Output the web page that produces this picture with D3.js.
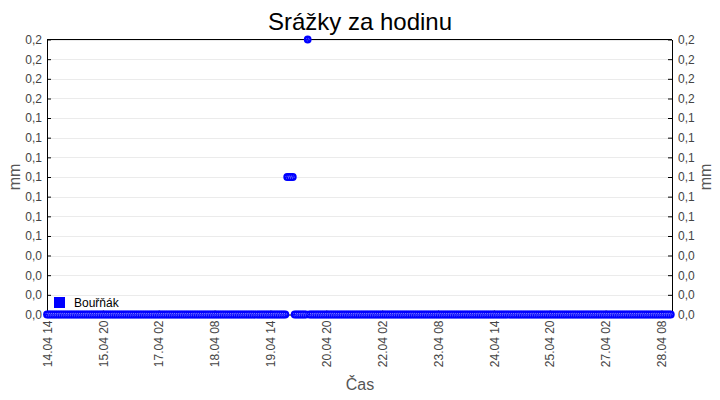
<!DOCTYPE html>
<html><head><meta charset="utf-8">
<script src="https://cdn.jsdelivr.net/npm/d3@7/dist/d3.min.js"></script>
<style>body{margin:0;background:#fff}svg{display:block;font-family:"Liberation Sans",Arial,sans-serif}</style>
</head><body>
<svg id="c" width="720" height="400"></svg>
<script>
const chartTitle = "Srážky za hodinu";
const seriesName = "Bouřňák";
const xTitle = "Čas";
const yTitle = "mm";
const startTime = "2024-04-14T14:00:00Z";
// hourly rainfall (mm), one row per 24 hours
const rainValues = [
 0,0,0,0,0,0,0,0,0,0,0,0,0,0,0,0,0,0,0,0,0,0,0,0,
 0,0,0,0,0,0,0,0,0,0,0,0,0,0,0,0,0,0,0,0,0,0,0,0,
 0,0,0,0,0,0,0,0,0,0,0,0,0,0,0,0,0,0,0,0,0,0,0,0,
 0,0,0,0,0,0,0,0,0,0,0,0,0,0,0,0,0,0,0,0,0,0,0,0,
 0,0,0,0,0,0,0,0,0,0,0,0,0,0,0,0,0,0,0,0,0,0,0,0,
 0,0,0,0,0,0,0,0,0,0.1,0.1,0.1,0.1,0,0,0,0,0,0,0,0.2,0,0,0,
 0,0,0,0,0,0,0,0,0,0,0,0,0,0,0,0,0,0,0,0,0,0,0,0,
 0,0,0,0,0,0,0,0,0,0,0,0,0,0,0,0,0,0,0,0,0,0,0,0,
 0,0,0,0,0,0,0,0,0,0,0,0,0,0,0,0,0,0,0,0,0,0,0,0,
 0,0,0,0,0,0,0,0,0,0,0,0,0,0,0,0,0,0,0,0,0,0,0,0,
 0,0,0,0,0,0,0,0,0,0,0,0,0,0,0,0,0,0,0,0,0,0,0,0,
 0,0,0,0,0,0,0,0,0,0,0,0,0,0,0,0,0,0,0,0,0,0,0,0,
 0,0,0,0,0,0,0,0,0,0,0,0,0,0,0,0,0,0,0,0,0,0,0,0,
 0,0,0,0,0,0,0,0,0,0,0,0,0,0,0,0,0,0,0,0,0,0,0,0
];
const xTickLabels = ["14.04 14","15.04 20","17.04 02","18.04 08","19.04 14","20.04 20",
  "22.04 02","23.04 08","24.04 14","25.04 20","27.04 02","28.04 08"];
const yTickValues = [0,0.0143,0.0286,0.0429,0.0571,0.0714,0.0857,0.1,0.1143,0.1286,0.1429,0.1571,0.1714,0.1857,0.2];

const svg = d3.select("#c");
const L = 47, R = 672, T = 39.5, B = 314.5;
const t0 = new Date(startTime);
const data = rainValues.map((v, i) => ({t: d3.utcHour.offset(t0, i), v}));
const x = d3.scaleUtc().domain(d3.extent(data, d => d.t)).range([L, 670.8]);
const y = d3.scaleLinear().domain([0, 0.2]).range([B, T]);
const parseTick = s => {
  const [dm, h] = s.split(" "); const [d, m] = dm.split(".");
  return new Date(Date.UTC(2024, +m - 1, +d, +h));
};
const xTicks = xTickLabels.map(parseTick);
const fmtY = v => d3.format(".1f")(v).replace(".", ",");

// grid
svg.append("g").selectAll("line").data(yTickValues).join("line")
  .attr("x1", L + 4).attr("x2", R - 4)
  .attr("y1", d => Math.round(y(d)) + 0.5).attr("y2", d => Math.round(y(d)) + 0.5)
  .attr("stroke", "#ebebeb");

// axes
const axL = svg.append("g").attr("transform", `translate(${L},0)`)
  .call(d3.axisLeft(y).tickValues(yTickValues).tickFormat(fmtY).tickSizeInner(-4).tickSizeOuter(0).tickPadding(5));
const axR = svg.append("g").attr("transform", `translate(${R},0)`)
  .call(d3.axisRight(y).tickValues(yTickValues).tickFormat(fmtY).tickSizeInner(-4).tickSizeOuter(0).tickPadding(6));
const axB = svg.append("g").attr("transform", `translate(0,${B})`)
  .call(d3.axisBottom(x).tickValues(xTicks).tickFormat((d, i) => xTickLabels[i]).tickSizeInner(-4).tickSizeOuter(0));
[axL, axR, axB].forEach(a => {
  a.selectAll("text").attr("fill", "#444").style("font-size", "12px").style("font-family", "Liberation Sans, Arial, sans-serif");
  a.selectAll("line").attr("stroke", "#000");
  a.select(".domain").attr("stroke", "#000");
});
axB.selectAll("text").attr("transform", "rotate(-90)").attr("text-anchor", "end")
  .attr("x", -6).attr("y", 0).attr("dy", "0.35em");
// top border
svg.append("line").attr("x1", L).attr("x2", R).attr("y1", T).attr("y2", T).attr("stroke", "#000");

// markers
const pts = svg.append("g");
pts.selectAll("circle.m").data(data).join("circle").attr("class", "m")
  .attr("cx", d => x(d.t)).attr("cy", d => y(d.v)).attr("r", 3.9)
  .attr("fill", "#0000ff");
pts.selectAll("circle.p").data(data).join("circle").attr("class", "p")
  .attr("cx", d => x(d.t)).attr("cy", d => y(d.v)).attr("r", 1.4)
  .attr("fill", "none").attr("stroke", "#fff").attr("stroke-width", 0.6).attr("stroke-dasharray", "0.6,1.6");

// legend
svg.append("rect").attr("x", 54).attr("y", 297).attr("width", 11).attr("height", 11).attr("fill", "#0000ff");
svg.append("text").attr("x", 74).attr("y", 307).text(seriesName).style("font-size", "12px").attr("fill", "#000");

// titles
svg.append("text").attr("x", 360).attr("y", 30).attr("text-anchor", "middle")
  .style("font-size", "24px").attr("fill", "#000").text(chartTitle);
svg.append("text").attr("x", 360).attr("y", 390).attr("text-anchor", "middle")
  .style("font-size", "16px").attr("fill", "#555").text(xTitle);
svg.append("text").attr("transform", `translate(20,${(T + B) / 2}) rotate(-90)`).attr("text-anchor", "middle")
  .style("font-size", "16px").attr("fill", "#555").text(yTitle);
svg.append("text").attr("transform", `translate(711,${(T + B) / 2}) rotate(-90)`).attr("text-anchor", "middle")
  .style("font-size", "16px").attr("fill", "#555").text(yTitle);
</script>
</body></html>
